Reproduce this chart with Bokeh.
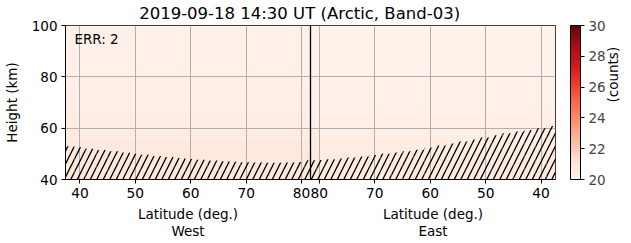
import numpy as np
from bokeh.plotting import figure
from bokeh.models import (Range1d, LinearColorMapper, ColorBar, FixedTicker, Label,
                          Span, CustomJSTickFormatter, LinearAxis)
from bokeh.palettes import Reds9
from bokeh.embed import file_html
from bokeh.resources import INLINE

# ---------------- data ----------------
title_text = "2019-09-18 14:30 UT (Arctic, Band-03)"
err_text = "ERR: 2"
xlabel_text = "Latitude (deg.)"
side_names = ["West", "East"]
cbar_label = "(counts)"
ylabel_text = "Height (km)"
lat_min, lat_max = 37.4, 81.6          # latitude extent of each half-panel
lat_ticks = [40, 50, 60, 70, 80]
height_ticks = [40, 60, 80, 100]
cbar_ticks = [20, 22, 24, 26, 28, 30]
clim_low, clim_high = 20, 30

# heatmap (counts) per 5-km height bin, bottom -> top
heights_km = [42.5, 47.5, 52.5, 57.5, 62.5, 67.5, 72.5, 77.5, 82.5, 87.5, 92.5, 97.5]
west_counts = [20.85, 20.80, 20.72, 20.62, 20.52, 20.45, 20.40, 20.36, 20.33, 20.31, 20.30, 20.30]
east_counts = [20.70, 20.64, 20.55, 20.46, 20.38, 20.32, 20.27, 20.24, 20.22, 20.21, 20.20, 20.20]

# top of hatched (masked) region, km, ascending latitude
west_lat = [38, 40, 42, 44, 46, 48, 50, 52, 54, 56, 58, 60, 62, 64, 66, 68, 70, 72, 74, 76, 78, 80, 81]
west_hatch_top = [53.0, 52.6, 52.0, 51.5, 51.0, 50.5, 50.0, 49.6, 49.2, 48.8, 48.4, 48.0,
                  47.7, 47.4, 47.1, 46.9, 46.7, 46.6, 46.5, 46.5, 46.6, 46.8, 47.5]
east_lat = [38, 40, 42, 44, 46, 48, 50, 52, 54, 56, 58, 60, 62, 64, 66, 68, 70, 72, 74, 76, 78, 80, 81]
east_hatch_top = [60.8, 60.0, 59.3, 58.7, 58.0, 57.2, 56.4, 55.6, 54.8, 54.0, 53.2, 52.4,
                  51.6, 51.0, 50.5, 50.0, 49.5, 49.0, 48.6, 48.2, 47.9, 47.6, 47.5]

# ---------------- helpers ----------------
FONT = "DejaVu Sans"
W = lat_max - lat_min
PX = 2 * W / 496          # data units per pixel along x


def xw(lat):
    return np.asarray(lat, dtype=float) - lat_min


def xe(lat):
    return 2 * lat_max - lat_min - np.asarray(lat, dtype=float)


def edges(centers):
    c = np.asarray(centers, dtype=float)
    mids = (c[1:] + c[:-1]) / 2
    return np.concatenate([[lat_min], mids, [lat_max]])


def py2y(py):
    return 40 - (py - 179) / 154 * 60


def px2x(px):
    return (px - 61) * PX


# Reds colormap (light -> dark)
anchors = [tuple(int(h[i:i + 2], 16) for i in (1, 3, 5)) for h in reversed(Reds9)]
anchors = np.array(anchors, dtype=float)
pos = np.linspace(0, 1, len(anchors))
t = np.linspace(0, 1, 256)
rgb = np.stack([np.interp(t, pos, anchors[:, k]) for k in range(3)], axis=1)
palette = ["#%02x%02x%02x" % tuple(int(round(v)) for v in row) for row in rgb]
mapper = LinearColorMapper(palette=palette, low=clim_low, high=clim_high)

# ---------------- figure ----------------
p = figure(width=631, height=243, output_backend="svg", toolbar_location=None,
           x_range=Range1d(0, 2 * W), y_range=Range1d(40, 100),
           min_border_left=61, min_border_right=74, min_border_top=25, min_border_bottom=64)
p.title.visible = False
p.background_fill_color = "white"
p.border_fill_color = "white"
p.outline_line_color = "black"
p.outline_line_alpha = 1.0
p.outline_line_width = 1

img = np.column_stack([west_counts, east_counts])
p.image(image=[img], x=0, y=40, dw=2 * W, dh=60, color_mapper=mapper, level="image")

we = edges(west_lat)
p.quad(left=xw(we[:-1]), right=xw(we[1:]), bottom=40, top=west_hatch_top,
       fill_color=None, line_color=None, hatch_pattern="/", hatch_color="black",
       hatch_weight=1.3, hatch_scale=13)
ee = edges(east_lat)
p.quad(left=xe(ee[1:]), right=xe(ee[:-1]), bottom=40, top=east_hatch_top,
       fill_color=None, line_color=None, hatch_pattern="/", hatch_color="black",
       hatch_weight=1.3, hatch_scale=13)

p.add_layout(Span(location=W, dimension="height", line_color="black", line_width=1.3))

# grid
p.grid.grid_line_color = "#b0b0b0"
p.grid.grid_line_width = 1
p.grid.level = "underlay"


def style_axis(ax, size="13.5px", tick_out=4, standoff=4, line=True):
    ax.axis_line_color = "black" if line else None
    ax.major_tick_line_color = "black" if tick_out else None
    ax.major_tick_out = tick_out
    ax.major_tick_in = 0
    ax.minor_tick_out = 0
    ax.minor_tick_in = 0
    ax.minor_tick_line_color = None
    ax.major_label_text_font = FONT
    ax.major_label_text_font_size = size
    ax.major_label_text_color = "black"
    ax.major_label_standoff = standoff
    ax.axis_label_text_font = FONT
    ax.axis_label_text_font_size = "13.5px"
    ax.axis_label_text_font_style = "normal"
    ax.axis_label_text_color = "black"


# main axes
tick_pos = [float(v) for v in xw(lat_ticks)] + [float(v) for v in xe(lat_ticks)]
p.xaxis.ticker = FixedTicker(ticks=tick_pos)
p.xaxis.formatter = CustomJSTickFormatter(args=dict(lmin=lat_min, lmax=lat_max), code="""
    const w = lmax - lmin;
    const v = tick <= w ? tick + lmin : 2*lmax - lmin - tick;
    return Math.round(v).toString();
""")
p.yaxis.ticker = FixedTicker(ticks=height_ticks)
p.yaxis.axis_label = ylabel_text
style_axis(p.xaxis[0], size="13.8px")
style_axis(p.yaxis[0])
p.yaxis.axis_label_standoff = 9

# x labels under each half (as extra axes with a tick per half)
half_centres = [W / 2, 1.5 * W]
ax_lab = LinearAxis(ticker=FixedTicker(ticks=half_centres),
                    formatter=CustomJSTickFormatter(args=dict(t=xlabel_text), code="return t;"))
style_axis(ax_lab, tick_out=0, standoff=5, line=False)
p.add_layout(ax_lab, "below")
ax_side = LinearAxis(ticker=FixedTicker(ticks=half_centres),
                     formatter=CustomJSTickFormatter(args=dict(w=W, names=side_names),
                                                     code="return tick < w ? names[0] : names[1];"))
style_axis(ax_side, tick_out=0, standoff=-2, line=False)
p.add_layout(ax_side, "below")

# title (as a top axis with one tick at the title centre)
ax_title = LinearAxis(ticker=FixedTicker(ticks=[px2x(298)]),
                      formatter=CustomJSTickFormatter(args=dict(t=title_text), code="return t;"))
style_axis(ax_title, size="16.5px", tick_out=0, standoff=3, line=False)
p.add_layout(ax_title, "above")

p.add_layout(Label(x=px2x(70), y=py2y(38), text=err_text, text_font=FONT,
                   text_font_size="13.5px", text_align="left", text_baseline="middle",
                   text_color="black"))

# spacer between frame and colour bar (one invisible tick)
ax_gap = LinearAxis(ticker=FixedTicker(ticks=[70]),
                    formatter=CustomJSTickFormatter(code="return '.';"))
style_axis(ax_gap, size="1px", tick_out=15, standoff=0, line=False)
ax_gap.major_tick_line_color = None
ax_gap.major_label_text_color = None
p.add_layout(ax_gap, "right")

cb = ColorBar(color_mapper=mapper, ticker=FixedTicker(ticks=cbar_ticks), width=10, height=154,
              padding=0, margin=0, major_tick_out=4, major_tick_in=0,
              major_tick_line_color="black", bar_line_color="black",
              major_label_text_font=FONT, major_label_text_font_size="13.5px",
              label_standoff=4, minor_tick_out=0, minor_tick_in=0,
              background_fill_color=None)
p.add_layout(cb, "right")

ax_cnt = LinearAxis(ticker=FixedTicker(ticks=[py2y(102)]),
                    formatter=CustomJSTickFormatter(args=dict(t=cbar_label), code="return t;"))
style_axis(ax_cnt, tick_out=0, standoff=4, line=False)
ax_cnt.major_label_orientation = np.pi / 2
p.add_layout(ax_cnt, "right")

open("out.html", "w").write(file_html(p, INLINE))
